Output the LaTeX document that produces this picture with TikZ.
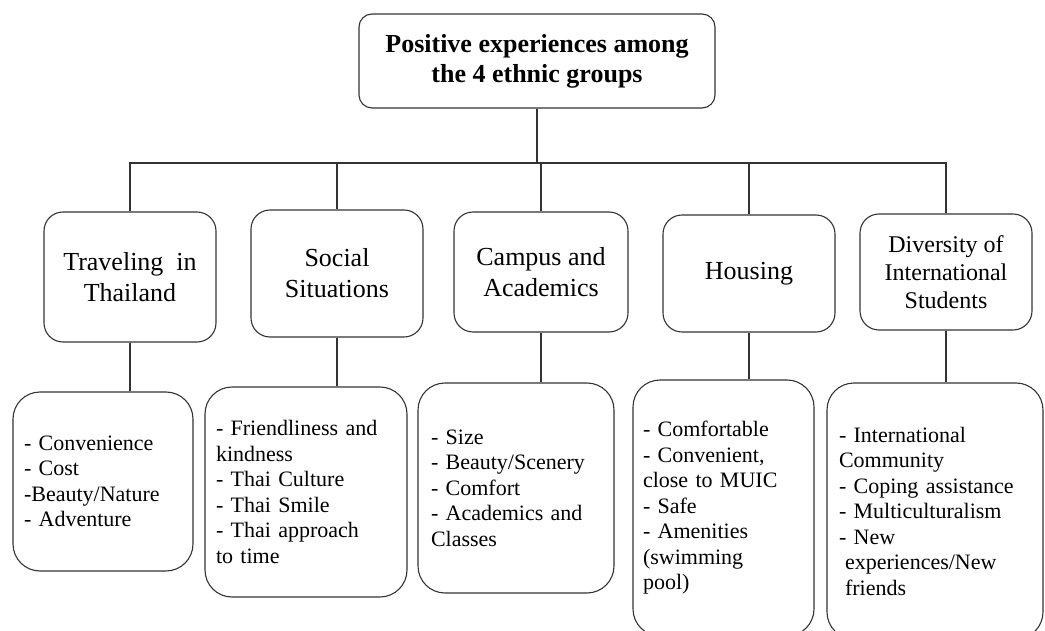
\documentclass[tikz,border=0pt]{standalone}
\usepackage{fontspec}
\setmainfont{Liberation Serif}
\begin{document}
\begin{tikzpicture}[x=1pt,y=-1pt,
  box/.style={draw=black!80, line width=1.1pt, fill=white, inner sep=0pt},
  topbox/.style={box, rounded corners=13pt, align=center, font=\fontsize{26}{30}\selectfont\bfseries},
  midbox/.style={box, rounded corners=19pt, align=center, font=\fontsize{26}{31}\selectfont},
  leafbox/.style={box, rounded corners=27pt, align=left, inner xsep=11pt, font=\fontsize{22}{25.5}\selectfont},
  conn/.style={draw=black!80, line width=1.1pt}]
\useasboundingbox (0,0) rectangle (1045,631);
\clip (0,0) rectangle (1045,631);
\fill[white] (0,0) rectangle (1045,631);

\coordinate (bus) at (0,163);

\node[topbox, minimum width=356pt, minimum height=94pt] (top) at (537,61)
  {Positive experiences among\\the 4 ethnic groups};

\node[midbox, minimum width=172pt, minimum height=130pt] (t1) at (130,277) {Traveling\ \ in\\Thailand};
\node[midbox, minimum width=172pt, minimum height=127pt] (t2) at (337,273.5) {Social\\Situations};
\node[midbox, minimum width=174pt, minimum height=120pt] (t3) at (541,272) {Campus and\\Academics};
\node[midbox, minimum width=172pt, minimum height=117pt] (t4) at (749,273.5) {Housing};
\node[midbox, minimum width=172pt, minimum height=116pt, font=\fontsize{24}{28}\selectfont] (t5) at (946,272) {Diversity of\\International\\Students};

\node[leafbox, text width=158pt, minimum height=179pt] (b1) at (103,481.5)
  {- Convenience\\- Cost\\-Beauty/Nature\\- Adventure};
\node[leafbox, text width=180pt, minimum height=210pt] (b2) at (306,492)
  {- Friendliness and\\kindness\\- Thai Culture\\- Thai Smile\\- Thai approach\\to time};
\node[leafbox, inner xsep=13pt, text width=170pt, minimum height=210pt] (b3) at (516,488)
  {- Size\\- Beauty/Scenery\\- Comfort\\- Academics and\\Classes};
\node[leafbox, inner xsep=10pt, text width=161pt, minimum height=256pt] (b4) at (723.5,508)
  {- Comfortable\\- Convenient,\\close to MUIC\\- Safe\\- Amenities\\(swimming\\pool)};
\node[leafbox, inner xsep=12pt, text width=192pt, minimum height=256pt] (b5) at (935,511)
  {- International\\Community\\- Coping assistance\\- Multiculturalism\\- New\\\hspace*{6pt}experiences/New\\\hspace*{6pt}friends};

\foreach \c in {t1,t2,t3,t4,t5}
  \draw[conn] (top.south) -- (top.south |- bus) -| (\c.north);

\foreach \m/\l in {t1/b1,t2/b2,t3/b3,t4/b4,t5/b5}
  \draw[conn] (\m.south) -- (\m.south |- \l.north);
\end{tikzpicture}
\end{document}
